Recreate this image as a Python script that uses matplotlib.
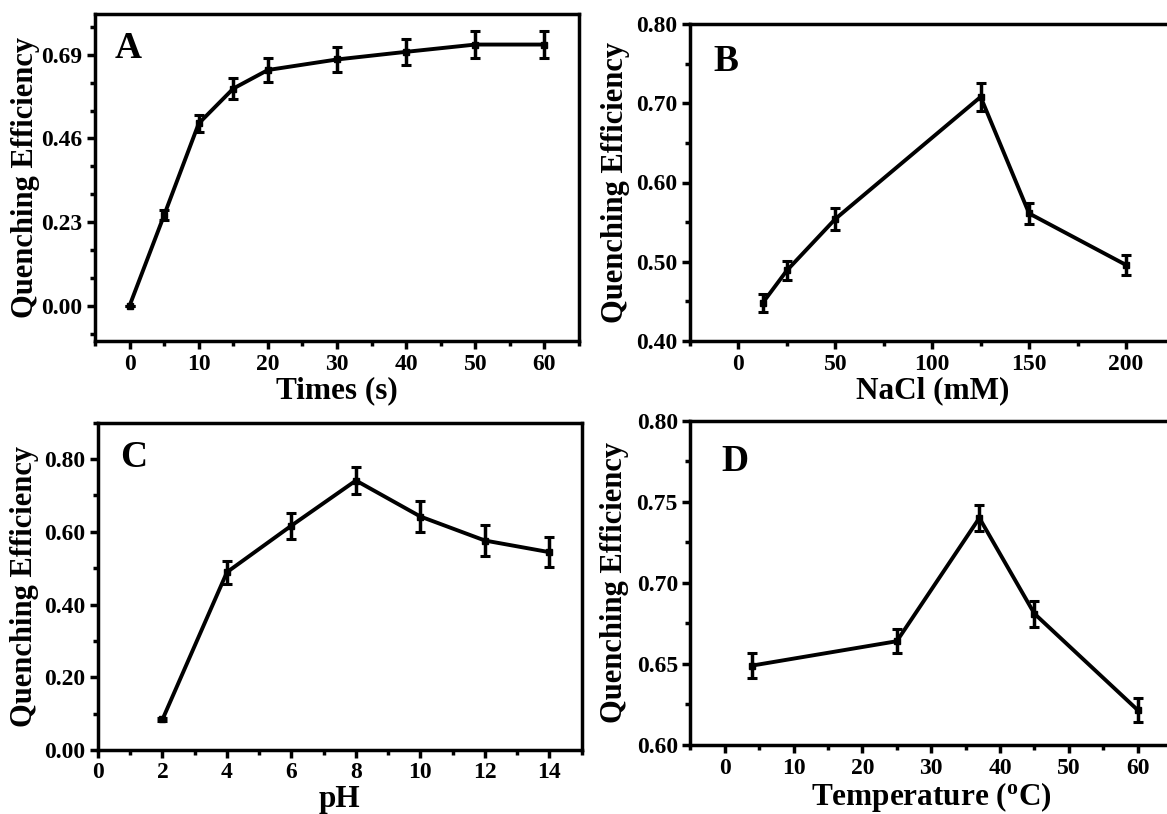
import numpy as np
import matplotlib
matplotlib.use('Agg')
import matplotlib.pyplot as plt
from matplotlib.ticker import AutoMinorLocator, FormatStrFormatter

plt.rcParams['font.family'] = ['Liberation Serif', 'DejaVu Serif']
plt.rcParams['font.weight'] = 'bold'
plt.rcParams['mathtext.fontset'] = 'custom'
plt.rcParams['mathtext.rm'] = 'Liberation Serif:bold'
plt.rcParams['mathtext.it'] = 'Liberation Serif:bold'
plt.rcParams['mathtext.bf'] = 'Liberation Serif:bold'

# A: zaman
zaman = [0, 5, 10, 15, 20, 30, 40, 50, 60]
verim_a = [0.000, 0.249, 0.501, 0.597, 0.648, 0.677, 0.698, 0.718, 0.718]
hata_a = [0.000, 0.013, 0.024, 0.030, 0.034, 0.035, 0.036, 0.037, 0.037]

# B: NaCl
nacl = [12.5, 25, 50, 125, 150, 200]
verim_b = [0.448, 0.489, 0.554, 0.708, 0.561, 0.496]
hata_b = [0.011, 0.012, 0.014, 0.018, 0.0135, 0.013]

# C: pH
ph = [2, 4, 6, 8, 10, 12, 14]
verim_c = [0.084, 0.489, 0.617, 0.741, 0.642, 0.576, 0.544]
hata_c = [0.005, 0.032, 0.036, 0.037, 0.042, 0.043, 0.042]

# D: sicaklik
sicaklik = [4, 25, 37, 45, 60]
verim_d = [0.649, 0.664, 0.740, 0.681, 0.6216]
hata_d = [0.0075, 0.0074, 0.008, 0.008, 0.0072]

W, H = 1167, 814
fig = plt.figure(figsize=(W / 100, H / 100), dpi=100)


def eksen(sol, alt, genislik, yukseklik):
    return fig.add_axes([sol / W, alt / H, genislik / W, yukseklik / H])


def ciz(ax, x, y, e, xlim, ylim, xticks, yticks, xlabel, harf, harf_konum, ynmin=2):
    ax.errorbar(x, y, yerr=e, fmt='-s', color='black', lw=2.8, ms=5,
                elinewidth=2.5, capsize=3.5, capthick=2.2)
    ax.set_xlim(*xlim)
    ax.set_ylim(*ylim)
    ax.set_xticks(xticks)
    ax.set_yticks(yticks)
    ax.yaxis.set_major_formatter(FormatStrFormatter('%.2f'))
    ax.xaxis.set_minor_locator(AutoMinorLocator(2))
    ax.yaxis.set_minor_locator(AutoMinorLocator(ynmin))
    for s in ax.spines.values():
        s.set_linewidth(2.5)
    ax.tick_params(which='both', direction='out', top=False, right=False, width=2.5)
    ax.tick_params(which='major', length=6, labelsize=17, pad=3)
    ax.tick_params(which='minor', length=3.5)
    ax.set_xlabel(xlabel, fontsize=22.5, fontweight='bold', labelpad=1)
    ax.text(harf_konum[0], harf_konum[1], harf, transform=ax.transAxes,
            fontsize=27, fontweight='bold', va='baseline', ha='left')


ax_a = eksen(95, H - 341, 484, 327)
ciz(ax_a, zaman, verim_a, hata_a, (-5, 65), (-0.097, 0.802),
    [0, 10, 20, 30, 40, 50, 60], [0.00, 0.23, 0.46, 0.69], 'Times (s)', 'A', (0.041, 0.865), ynmin=3)

ax_b = eksen(690, H - 341, 484.4, 317)
ciz(ax_b, nacl, verim_b, hata_b, (-25, 225), (0.40, 0.80),
    [0, 50, 100, 150, 200], [0.40, 0.50, 0.60, 0.70, 0.80], 'NaCl (mM)', 'B', (0.0475, 0.853))

ax_c = eksen(98, H - 750, 483.6, 327.3)
ciz(ax_c, ph, verim_c, hata_c, (0, 15), (0, 0.9),
    [0, 2, 4, 6, 8, 10, 12, 14], [0.00, 0.20, 0.40, 0.60, 0.80], 'pH', 'C', (0.0455, 0.865))

ax_d = eksen(690.4, H - 745, 481.6, 324.3)
ciz(ax_d, sicaklik, verim_d, hata_d, (-5, 65), (0.60, 0.80),
    [0, 10, 20, 30, 40, 50, 60], [0.60, 0.65, 0.70, 0.75, 0.80],
    'Temperature ($^{\\rm o}$C)', 'D', (0.064, 0.846))

# y eksen isimleri
for xm, ax in [(26, ax_a), (616, ax_b), (25, ax_c), (614, ax_d)]:
    pos = ax.get_position()
    fig.text(xm / W, pos.y0 + pos.height / 2, 'Quenching Efficiency', rotation=90,
             ha='center', va='center', fontsize=22, fontweight='bold')

fig.savefig('out.png', dpi=100)
